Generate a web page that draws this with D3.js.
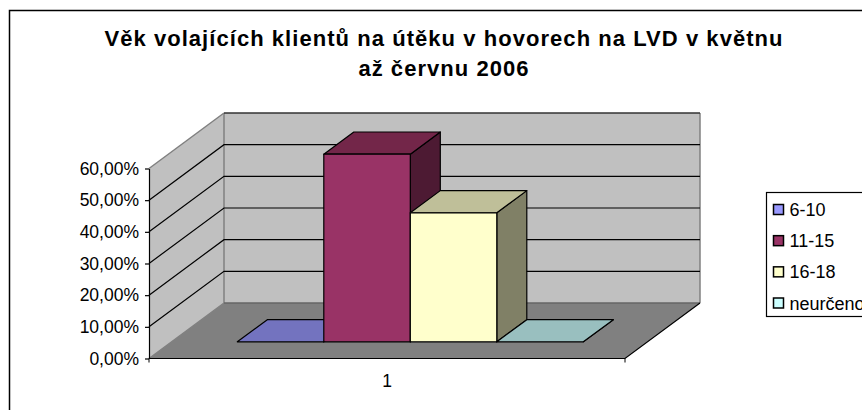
<!DOCTYPE html>
<html>
<head>
<meta charset="utf-8">
<script src="https://cdn.jsdelivr.net/npm/d3@7"></script>
<style>
  html, body { margin: 0; padding: 0; background: #fff; overflow: hidden; }
  text { font-family: "Liberation Sans", Arial, sans-serif; fill: #000; }
</style>
</head>
<body>
<svg id="chart"></svg>
<script>
const titleLines = ["Věk volajících klientů na útěku v hovorech na LVD v květnu", "až červnu 2006"];
const categoryLabels = ["1"];
const seriesNames = ["6-10", "11-15", "16-18", "neurčeno"];
const seriesValues = [0, 59.26, 40.74, 0];
const tickValues = [0, 10, 20, 30, 40, 50, 60];
const frontColors = ["#9999ff", "#993366", "#ffffcc", "#ccffff"];
const topColors = ["#7373bf", "#732649", "#bfbf99", "#99bfbf"];
const sideColors = ["#4d4d80", "#4d1a33", "#808066", "#668080"];

const svg = d3.select("#chart").attr("width", 862).attr("height", 410);

// chart area border, runs off the right and bottom of the picture
svg.append("rect")
    .attr("x", 9.5).attr("y", 10.5)
    .attr("width", 900).attr("height", 450)
    .attr("fill", "#fff").attr("stroke", "#000").attr("stroke-width", 1.5);

const title = svg.append("text")
    .attr("text-anchor", "middle")
    .style("font-size", "22px")
    .style("font-weight", "bold")
    .style("letter-spacing", "1.05px");
titleLines.forEach((t, i) => {
    title.append("tspan").attr("x", 444).attr("y", 46 + i * 30).text(t);
});

// front plane of the floor
const left = 149, bottom = 358.5, plotW = 476, plotH = 190;
const depthX = 75, depthY = -55.5;

const x = d3.scaleBand().domain(categoryLabels).range([left, left + plotW]);
const barX = d3.scaleBand().domain(seriesNames).range([214.8, 560.8]);
const y = d3.scaleLinear().domain([0, 60]).range([bottom, bottom - plotH]);
const depth = d3.scaleLinear().domain([0, 1]).range([0, 1]);

// oblique projection: value along x, value along y, depth 0..1
const pt = (px, py, d) => [px + depth(d) * depthX, py + depth(d) * depthY];
const poly = pts => "M" + pts.map(p => p.join(",")).join("L") + "Z";

const x0 = x.range()[0], x1 = x.range()[1], yTop = y(60), yBot = y(0);

// back wall
svg.append("path")
    .attr("d", poly([pt(x0, yTop, 1), pt(x1, yTop, 1), pt(x1, yBot, 1), pt(x0, yBot, 1)]))
    .attr("fill", "#c0c0c0");
// side wall
svg.append("path")
    .attr("d", poly([pt(x0, yTop, 0), pt(x0, yTop, 1), pt(x0, yBot, 1), pt(x0, yBot, 0)]))
    .attr("fill", "#c0c0c0");
// floor
svg.append("path")
    .attr("d", poly([pt(x0, yBot, 0), pt(x0, yBot, 1), pt(x1, yBot, 1), pt(x1, yBot, 0)]))
    .attr("fill", "#808080");

// wall edges
const line = d3.line();
const edges = [
    [pt(x0, yTop, 0), pt(x0, yTop, 1)],
    [pt(x0, yTop, 1), pt(x0, yBot, 1)],
    [pt(x1, yTop, 1), pt(x1, yBot, 1)],
    [pt(x0, yBot, 0), pt(x0, yBot, 1)]
];
svg.append("g").selectAll("path").data(edges).join("path")
    .attr("d", d => line(d))
    .attr("fill", "none")
    .attr("stroke", "#808080")
    .attr("stroke-width", 1.5);
svg.append("path")
    .attr("d", line([pt(x0, yBot, 1), pt(x1, yBot, 1)]))
    .attr("fill", "none").attr("stroke", "#666").attr("stroke-width", 1.5);

// gridlines on both walls
const grid = svg.append("g").attr("fill", "none").attr("stroke", "#000").attr("stroke-width", 1.2);
tickValues.filter(t => t > 0 && t < 60).forEach(t => {
    grid.append("path").attr("d", line([pt(x0, y(t), 0), pt(x0, y(t), 1), pt(x1, y(t), 1)]));
});
grid.append("path").attr("d", line([pt(x0, yTop, 1), pt(x1, yTop, 1)])).attr("stroke", "#333").attr("stroke-width", 1.5);

// floor front and right edge
svg.append("path")
    .attr("d", line([pt(x0, yBot, 0), pt(x1, yBot, 0), pt(x1, yBot, 1)]))
    .attr("fill", "none").attr("stroke", "#000").attr("stroke-width", 1.2);

// bars sit between these depths
const dFront = 0.3, dBack = 0.7;
const bars = svg.append("g").attr("stroke", "#000").attr("stroke-width", 1.2).attr("stroke-linejoin", "round");
seriesNames.forEach((name, i) => {
    const bx0 = barX(name), bx1 = bx0 + barX.bandwidth();
    const vy = y(seriesValues[i]);
    bars.append("path").attr("d", poly([pt(bx1, vy, dFront), pt(bx1, vy, dBack), pt(bx1, yBot, dBack), pt(bx1, yBot, dFront)]))
        .attr("fill", sideColors[i]);
    bars.append("path").attr("d", poly([pt(bx0, vy, dFront), pt(bx0, vy, dBack), pt(bx1, vy, dBack), pt(bx1, vy, dFront)]))
        .attr("fill", topColors[i]);
    if (seriesValues[i] > 0) {
        bars.append("path").attr("d", poly([pt(bx0, vy, dFront), pt(bx1, vy, dFront), pt(bx1, yBot, dFront), pt(bx0, yBot, dFront)]))
            .attr("fill", frontColors[i]);
    }
});

// axes
const fmt = d3.formatLocale({ decimal: ",", thousands: " ", grouping: [3], currency: ["", ""] }).format(".2f");
const yAxis = svg.append("g")
    .attr("transform", `translate(${left},0)`)
    .call(d3.axisLeft(y).tickValues(tickValues).tickSize(4).tickPadding(6).tickSizeOuter(0).tickFormat(d => fmt(d) + "%"));
yAxis.select(".domain").attr("stroke", "#000").attr("stroke-width", 1.2);
yAxis.selectAll("line").attr("stroke", "#000").attr("stroke-width", 1.2);
yAxis.selectAll("text").style("font-size", "17.5px").style("font-family", '"Liberation Sans"').attr("fill", "#000");

const xAxis = svg.append("g")
    .attr("transform", `translate(0,${bottom})`)
    .call(d3.axisBottom(x).tickSize(0).tickPadding(16));
xAxis.select(".domain").remove();
xAxis.selectAll("text").style("font-size", "17.5px").style("font-family", '"Liberation Sans"').attr("fill", "#000");
svg.append("g").selectAll("line").data(x.range()).join("line")
    .attr("x1", d => d).attr("x2", d => d)
    .attr("y1", bottom).attr("y2", bottom + 4)
    .attr("stroke", "#000").attr("stroke-width", 1);

// legend, also cut off by the right edge
const legend = svg.append("g").attr("transform", "translate(766.5,192.5)");
legend.append("rect")
    .attr("width", 120).attr("height", 124)
    .attr("fill", "#fff").attr("stroke", "#000").attr("stroke-width", 1.2);
const legendY = d3.scalePoint().domain(seriesNames).range([17, 110.5]);
seriesNames.forEach((name, i) => {
    legend.append("rect")
        .attr("x", 7).attr("y", legendY(name) - 5)
        .attr("width", 10).attr("height", 10)
        .attr("fill", frontColors[i]).attr("stroke", "#000").attr("stroke-width", 1.5);
    legend.append("text")
        .attr("x", 23).attr("y", legendY(name) + 6.5)
        .style("font-size", "18px")
        .text(name);
});
</script>
</body>
</html>
